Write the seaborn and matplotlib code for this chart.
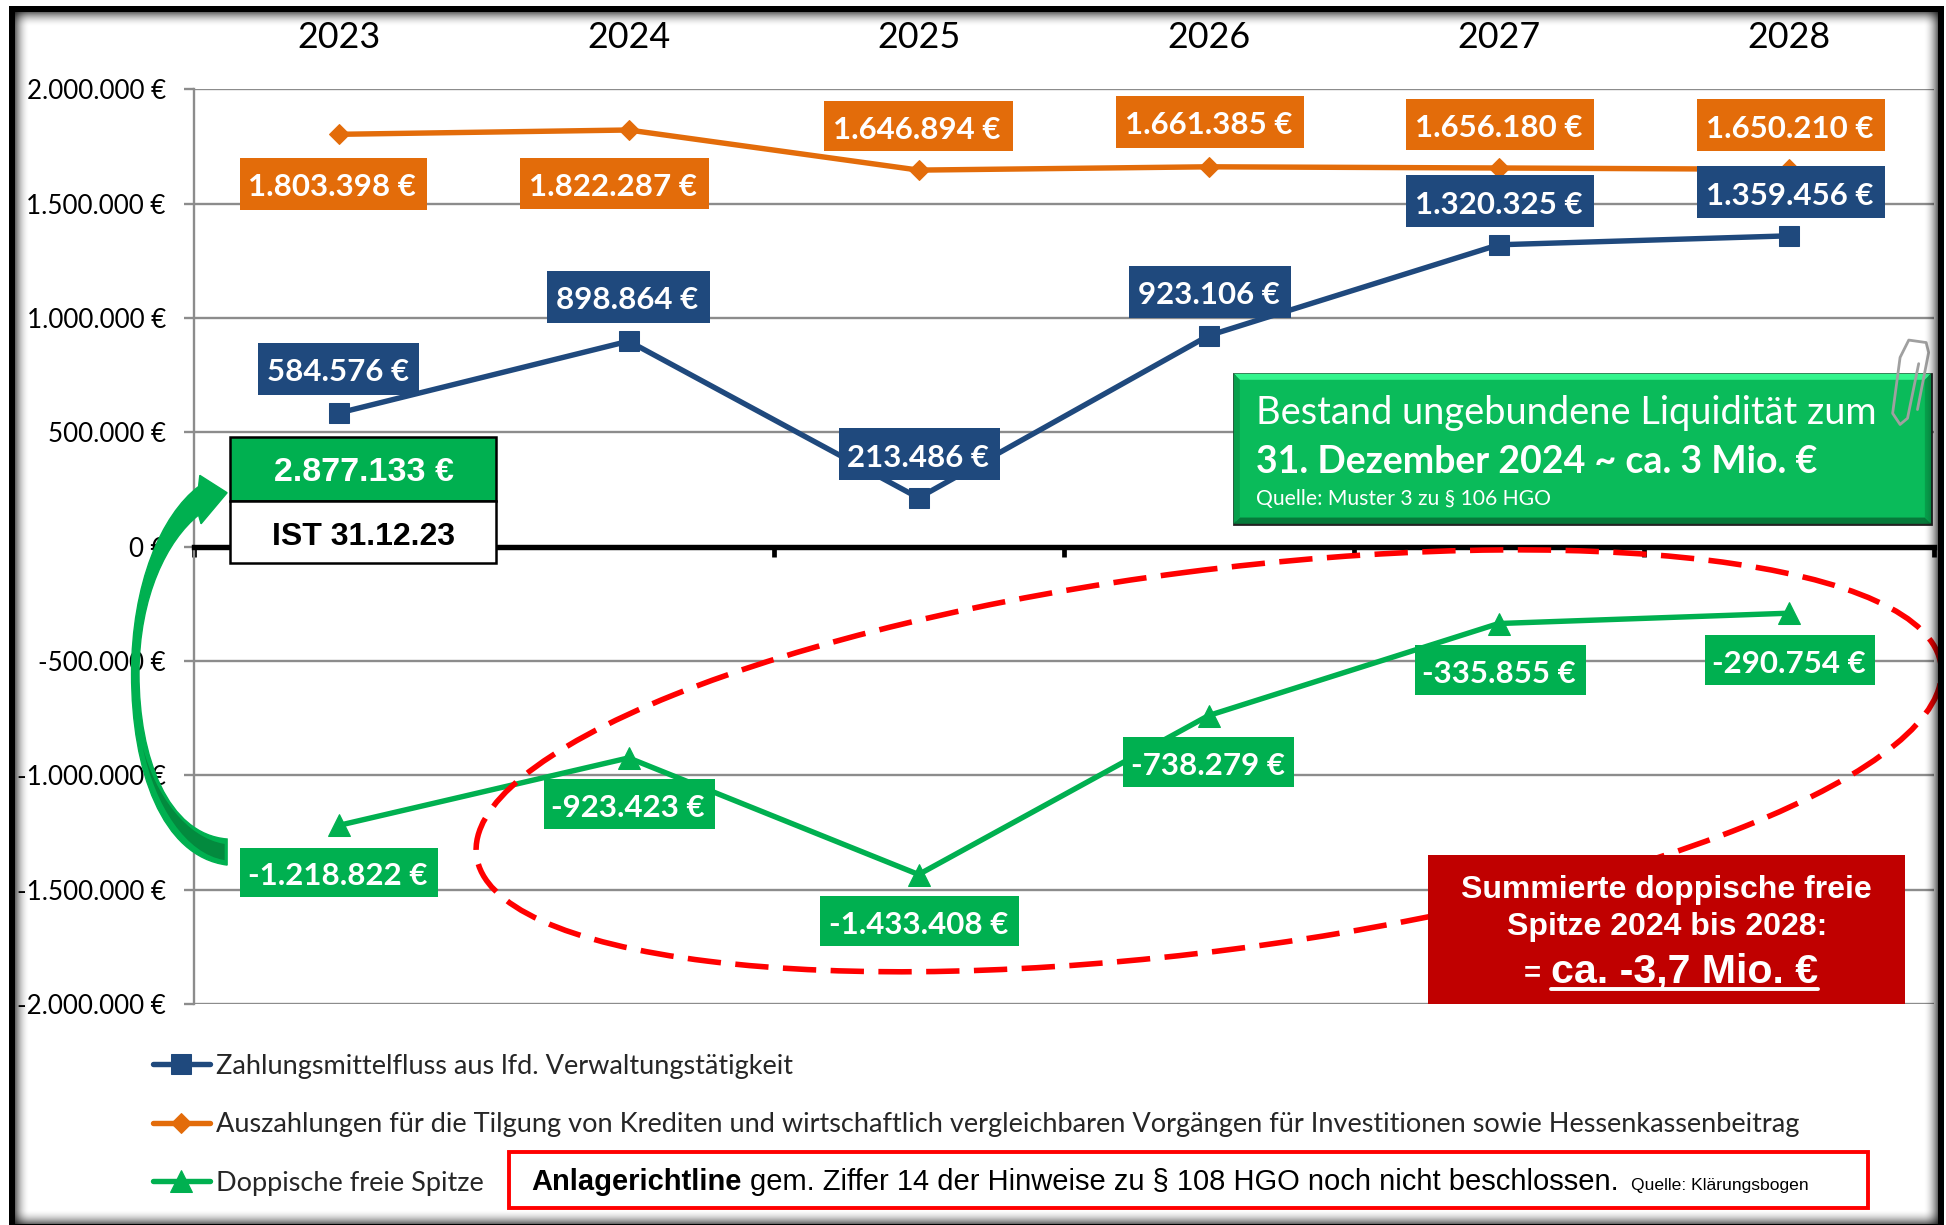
import numpy as np
import pandas as pd
import matplotlib
matplotlib.use("Agg")
import matplotlib.pyplot as plt
import seaborn as sns
from matplotlib.patches import Ellipse, PathPatch, Polygon, Rectangle
from matplotlib.path import Path
from matplotlib.ticker import FuncFormatter

# ------------------------------
# data
# ------------------------------
years = ["2023", "2024", "2025", "2026", "2027", "2028"]
zahlungsmittel = [584576, 898864, 213486, 923106, 1320325, 1359456]
auszahlungen = [1803398, 1822287, 1646894, 1661385, 1656180, 1650210]
freie_spitze = [-1218822, -923423, -1433408, -738279, -335855, -290754]

name_blue = "Zahlungsmittelfluss aus lfd. Verwaltungstätigkeit"
name_orange = ("Auszahlungen für die Tilgung von Krediten und wirtschaftlich vergleichbaren "
               "Vorgängen für Investitionen sowie Hessenkassenbeitrag")
name_green = "Doppische freie Spitze"

BLUE = "#1F497D"
ORANGE = "#E36C0A"
GREEN = "#00B050"
BODY = "Lato"
ARIAL = "Liberation Sans"


def euro(v):
    return f"{v:,.0f} €".replace(",", ".")


sns.set_theme(style="white")
plt.rcParams["font.family"] = [BODY, "DejaVu Sans"]

fig = plt.figure(figsize=(19.46, 12.25), dpi=100, facecolor="white")
# plot area in reference pixels (1568 wide view)
W, H = 1568, 987
L, R, T, B = 156, 1558, 72, 809
ax = fig.add_axes([L / W, 1 - B / H, (R - L) / W, (B - T) / H])

# ------------------------------
# lines
# ------------------------------
pos = np.arange(len(years))
sns.lineplot(x=pos, y=zahlungsmittel, ax=ax, color=BLUE, lw=3.9, marker="s", markersize=14.5,
             markeredgecolor=BLUE, label=name_blue, zorder=4)
sns.lineplot(x=pos, y=auszahlungen, ax=ax, color=ORANGE, lw=3.9, marker="D", markersize=10.5,
             markeredgecolor=ORANGE, label=name_orange, zorder=4)
sns.lineplot(x=pos, y=freie_spitze, ax=ax, color=GREEN, lw=3.9, marker="^", markersize=15.5,
             markeredgecolor=GREEN, label=name_green, zorder=4)

ax.set_xlim(-0.5, 5.49)
ax.set_ylim(-2000000, 2000000)
ax.set_yticks(np.arange(-2000000, 2000001, 500000))
ax.yaxis.set_major_formatter(FuncFormatter(lambda v, _: euro(v)))
ax.grid(axis="y", color="#8C8C8C", lw=1.7)
ax.grid(axis="x", visible=False)
ax.set_axisbelow(True)
ax.tick_params(axis="y", length=7, width=1.7, color="#8C8C8C", pad=13, labelsize=18.7, labelcolor="black", left=True)

ax.xaxis.tick_top()
ax.set_xticks(pos)
ax.set_xticklabels(years)
ax.tick_params(axis="x", which="major", length=0, pad=25.5, labelsize=25.8, labelcolor="black")
ax.set_xticks(np.arange(-0.5, 5.6, 1), minor=True)
ax.tick_params(axis="x", which="minor", top=False, bottom=True, direction="out", length=7.5, width=3.4, color="black")
ax.set_xlabel("")
ax.set_ylabel("")

for s in ["top", "right"]:
    ax.spines[s].set_visible(False)
ax.spines["left"].set_color("#8C8C8C")
ax.spines["left"].set_linewidth(1.7)
ax.spines["bottom"].set_position(("data", 0))
ax.spines["bottom"].set_color("black")
ax.spines["bottom"].set_linewidth(3.9)

handles, labels = ax.get_legend_handles_labels()
ax.legend(handles, labels, loc="upper left", bbox_to_anchor=(123 / W, 1 - 849 / H),
          bbox_transform=fig.transFigure, frameon=False, fontsize=19.5, handlelength=2.1,
          handletextpad=0.23, labelspacing=1.24, borderpad=0, borderaxespad=0)

# ------------------------------
# overlay: labels and drawn shapes, in reference pixels
# ------------------------------
ov = fig.add_axes([0, 0, 1, 1], facecolor="none")

# picture frame: black border with soft inner shadow, white outside
px_h, px_w = 1225, 1946
xx, yy = np.meshgrid(np.arange(px_w) + 0.5, np.arange(px_h) + 0.5)
edge = np.minimum.reduce([xx - 15, 1938 - xx, yy - 12, 1224 - yy])
shade = [xx - 15, 1938 - xx, yy - 12, 1224 - yy]
keep = np.ones_like(xx)
for d in shade:
    keep *= 1 - 0.62 * np.clip(1 - d / 15, 0, 1) ** 2
frame = np.zeros((px_h, px_w, 4))
frame[..., :3] = 0.0
frame[..., 3] = 1 - keep
frame[edge < 0, 3] = 1
outside = (xx < 9) | (xx > 1944) | (yy < 6)
frame[outside] = [1, 1, 1, 1]
ov.imshow(frame, extent=(0, W, H, 0), aspect="auto", interpolation="nearest", zorder=8)

ov.set_xlim(0, W)
ov.set_ylim(H, 0)
ov.axis("off")

# dashed ellipse goes under the boxes
ov.add_patch(Ellipse((974, 613), 1190, 306, angle=-7.4, fill=False, ec="#FF0000", lw=4,
                     ls=(0, (6, 2.6)), zorder=2))

orange_boxes = [(193, 344, 127, 169), (419, 571, 127, 168), (664, 816, 81, 122),
                (899, 1051, 77, 119), (1133, 1284, 80, 121), (1367, 1519, 80, 122)]
blue_boxes = [(208, 338, 276, 318), (441, 572, 218, 260), (676, 806, 345, 387),
              (910, 1040, 214, 256), (1133, 1284, 141, 183), (1367, 1519, 134, 176)]
green_boxes = [(193, 353, 683, 723), (438, 576, 628, 668), (661, 821, 722, 762),
               (905, 1043, 594, 634), (1140, 1278, 520, 560), (1374, 1511, 512, 552)]

for vals, boxes, col in [(auszahlungen, orange_boxes, ORANGE), (zahlungsmittel, blue_boxes, BLUE),
                         (freie_spitze, green_boxes, GREEN)]:
    for v, (x0, x1, y0, y1) in zip(vals, boxes):
        ov.add_patch(Rectangle((x0, y0), x1 - x0, y1 - y0, fc=col, ec="none", zorder=3))
        ov.text((x0 + x1) / 2 - 1, (y0 + y1) / 2 + 3, euro(v), color="white", fontsize=22.5,
                fontweight="bold", ha="center", va="center", zorder=4)

# IST box
ov.add_patch(Rectangle((185, 352), 215, 52, fc=GREEN, ec="black", lw=1.8, zorder=5))
ov.add_patch(Rectangle((185, 404), 215, 50, fc="white", ec="black", lw=1.8, zorder=5))
ov.text(293, 381, "2.877.133 €", color="white", fontsize=24.5, fontweight="bold", family=ARIAL,
        ha="center", va="center", zorder=6)
ov.text(293, 433, "IST 31.12.23", color="black", fontsize=23, fontweight="bold", family=ARIAL,
        ha="center", va="center", zorder=6)

# curved arrow
arrow_v = [(183, 697), (130, 690), (106, 620), (106, 543), (106, 470), (130, 415), (160, 392),
           (161, 383), (183, 397), (162, 422), (160, 415),
           (135, 435), (112, 480), (112, 543), (112, 610), (135, 672), (183, 676), (183, 697)]
arrow_c = [Path.MOVETO] + [Path.CURVE4] * 6 + [Path.LINETO] * 4 + [Path.CURVE4] * 6 + [Path.CLOSEPOLY]
ov.add_patch(PathPatch(Path(arrow_v, arrow_c), fc=GREEN, ec=GREEN, lw=1, zorder=5))
shade_v = [(181, 693), (150, 688), (125, 650), (115, 602), (125, 640), (150, 675), (181, 680), (181, 693)]
shade_c = [Path.MOVETO] + [Path.CURVE4] * 6 + [Path.CLOSEPOLY]
ov.add_patch(PathPatch(Path(shade_v, shade_c), fc="#038A3E", ec="none", zorder=6))

# liquidity box with bevel
x0, x1, y0, y1, b = 994, 1556, 301, 422, 5
ov.add_patch(Rectangle((x0, y0), x1 - x0, y1 - y0, fc="#0ABB5A", ec="#222222", lw=2, zorder=5))
ov.add_patch(Polygon([(x0, y0), (x1, y0), (x1 - b, y0 + b), (x0 + b, y0 + b)], fc="#33F58D", ec="none", zorder=5))
ov.add_patch(Polygon([(x0, y1), (x1, y1), (x1 - b, y1 - b), (x0 + b, y1 - b)], fc="#067A3A", ec="none", zorder=5))
ov.add_patch(Polygon([(x0, y0), (x0 + b, y0 + b), (x0 + b, y1 - b), (x0, y1)], fc="#08A04C", ec="none", zorder=5))
ov.add_patch(Polygon([(x1, y0), (x1 - b, y0 + b), (x1 - b, y1 - b), (x1, y1)], fc="#08A04C", ec="none", zorder=5))
ov.text(1012, 333, "Bestand ungebundene Liquidität zum", color="white", fontsize=27.4, va="center", zorder=6)
ov.text(1012, 372, "31. Dezember 2024 ~ ca. 3 Mio. €", color="white", fontsize=27, fontweight="bold",
        va="center", zorder=6)
ov.text(1012, 402, "Quelle: Muster 3 zu § 106 HGO", color="white", fontsize=15.2, va="center", zorder=6)

# paper clip
clip_x = [1546, 1537, 1531, 1525, 1531, 1538, 1552, 1554, 1545]
clip_y = [293, 337, 342, 333, 288, 274, 276, 284, 330]
ov.plot(clip_x, clip_y, color="#A0A0A0", lw=2, zorder=7)

# red box
ov.add_patch(Rectangle((1151, 689), 384, 120, fc="#C00000", ec="none", zorder=5))
ov.text(1343, 717, "Summierte doppische freie", color="white", fontsize=23, fontweight="bold",
        family=ARIAL, ha="center", va="center", zorder=6)
ov.text(1343, 747, "Spitze 2024 bis 2028:", color="white", fontsize=23, fontweight="bold",
        family=ARIAL, ha="center", va="center", zorder=6)
ov.text(1228, 784, "=", color="white", fontsize=21, fontweight="bold", family=ARIAL, va="center", zorder=6)
ov.text(1250, 783, "ca. -3,7 Mio. €", color="white", fontsize=29.6, fontweight="bold", family=ARIAL,
        va="center", zorder=6)
ov.plot([1250, 1465], [797, 797], color="white", lw=2.8, zorder=6)

# bottom note
ov.add_patch(Rectangle((410, 928), 1095, 45, fc="white", ec="#FF0000", lw=2.8, zorder=5))
ov.text(428, 952, "Anlagerichtline", color="black", fontsize=21, fontweight="bold", family=ARIAL,
        va="center", zorder=6)
ov.text(604, 952, "gem. Ziffer 14 der Hinweise zu § 108 HGO noch nicht beschlossen.", color="black",
        fontsize=21, family=ARIAL, va="center", zorder=6)
ov.text(1314, 955, "Quelle: Klärungsbogen", color="black", fontsize=12.6, family=ARIAL, va="center", zorder=6)

fig.savefig("out.png", dpi=100)
